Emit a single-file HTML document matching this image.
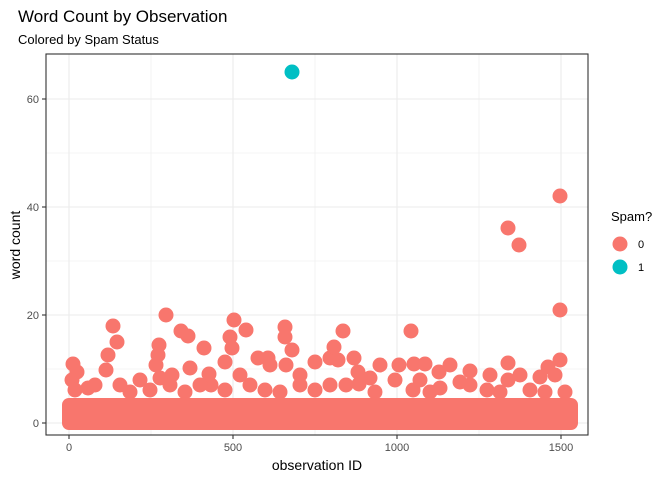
<!DOCTYPE html><html><head><style>body{margin:0;background:#fff}</style></head><body>
<svg width="672" height="480" xmlns="http://www.w3.org/2000/svg" font-family="Liberation Sans, sans-serif">
<rect width="672" height="480" fill="#fff"/>
<g stroke="#ebebeb" stroke-width="0.6">
<line x1="46" x2="588" y1="153" y2="153"/><line x1="46" x2="588" y1="261" y2="261"/><line x1="46" x2="588" y1="369" y2="369"/>
<line y1="54" y2="435" x1="151" x2="151"/><line y1="54" y2="435" x1="315" x2="315"/><line y1="54" y2="435" x1="479" x2="479"/>
</g>
<g stroke="#ebebeb" stroke-width="1.1">
<line x1="46" x2="588" y1="99" y2="99"/><line x1="46" x2="588" y1="207" y2="207"/><line x1="46" x2="588" y1="315" y2="315"/><line x1="46" x2="588" y1="423" y2="423"/>
<line y1="54" y2="435" x1="69" x2="69"/><line y1="54" y2="435" x1="233" x2="233"/><line y1="54" y2="435" x1="397" x2="397"/><line y1="54" y2="435" x1="561" x2="561"/>
</g>
<g fill="#F8766D">
<rect x="62" y="398" width="516" height="32" rx="7"/>
<circle cx="560" cy="196" r="7.5"/><circle cx="508" cy="228" r="7.5"/><circle cx="519" cy="245" r="7.5"/>
<circle cx="166" cy="315" r="7.5"/><circle cx="181" cy="331" r="7.5"/><circle cx="188" cy="336" r="7.5"/><circle cx="159" cy="345" r="7.5"/><circle cx="158" cy="355" r="7.5"/><circle cx="156" cy="365" r="7.5"/><circle cx="172" cy="375" r="7.5"/>
<circle cx="113" cy="326" r="7.5"/><circle cx="117" cy="342" r="7.5"/><circle cx="108" cy="355" r="7.5"/><circle cx="106" cy="370" r="7.5"/><circle cx="73" cy="364" r="7.5"/><circle cx="77" cy="372" r="7.5"/><circle cx="72" cy="380" r="7.5"/><circle cx="88" cy="388" r="7.5"/>
<circle cx="204" cy="348" r="7.5"/><circle cx="209" cy="374" r="7.5"/><circle cx="230" cy="337" r="7.5"/><circle cx="234" cy="320" r="7.5"/><circle cx="232" cy="348" r="7.5"/><circle cx="246" cy="330" r="7.5"/><circle cx="258" cy="358" r="7.5"/><circle cx="268" cy="358" r="7.5"/>
<circle cx="285" cy="327" r="7.5"/><circle cx="285" cy="337" r="7.5"/><circle cx="286" cy="365" r="7.5"/><circle cx="270" cy="365" r="7.5"/>
<circle cx="330" cy="358" r="7.5"/><circle cx="343" cy="331" r="7.5"/><circle cx="334" cy="347" r="7.5"/><circle cx="338" cy="360" r="7.5"/><circle cx="354" cy="358" r="7.5"/><circle cx="358" cy="372" r="7.5"/><circle cx="370" cy="378" r="7.5"/><circle cx="380" cy="365" r="7.5"/>
<circle cx="399" cy="365" r="7.5"/><circle cx="414" cy="364" r="7.5"/><circle cx="425" cy="364" r="7.5"/><circle cx="411" cy="331" r="7.5"/><circle cx="439" cy="372" r="7.5"/><circle cx="450" cy="365" r="7.5"/><circle cx="470" cy="371" r="7.5"/><circle cx="508" cy="380" r="7.5"/>
<circle cx="560" cy="310" r="7.5"/><circle cx="560" cy="360" r="7.5"/><circle cx="555" cy="375" r="7.5"/><circle cx="548" cy="367" r="7.5"/><circle cx="540" cy="377" r="7.5"/><circle cx="520" cy="375" r="7.5"/><circle cx="508" cy="363" r="7.5"/><circle cx="490" cy="375" r="7.5"/>
<circle cx="487" cy="390" r="7.5"/><circle cx="470" cy="385" r="7.5"/><circle cx="460" cy="382" r="7.5"/><circle cx="420" cy="380" r="7.5"/><circle cx="413" cy="390" r="7.5"/><circle cx="359" cy="384" r="7.5"/><circle cx="346" cy="385" r="7.5"/><circle cx="330" cy="385" r="7.5"/><circle cx="300" cy="385" r="7.5"/><circle cx="250" cy="385" r="7.5"/><circle cx="211" cy="385" r="7.5"/><circle cx="200" cy="385" r="7.5"/><circle cx="170" cy="385" r="7.5"/><circle cx="120" cy="385" r="7.5"/><circle cx="95" cy="385" r="7.5"/><circle cx="75" cy="390" r="7.5"/>
<circle cx="300" cy="375" r="7.5"/><circle cx="240" cy="375" r="7.5"/><circle cx="190" cy="368" r="7.5"/><circle cx="140" cy="380" r="7.5"/><circle cx="225" cy="362" r="7.5"/><circle cx="315" cy="362" r="7.5"/><circle cx="395" cy="380" r="7.5"/><circle cx="440" cy="388" r="7.5"/><circle cx="530" cy="390" r="7.5"/><circle cx="565" cy="392" r="7.5"/>
<circle cx="130" cy="392" r="7.5"/><circle cx="150" cy="390" r="7.5"/><circle cx="185" cy="392" r="7.5"/><circle cx="225" cy="390" r="7.5"/><circle cx="265" cy="390" r="7.5"/><circle cx="280" cy="392" r="7.5"/><circle cx="315" cy="390" r="7.5"/><circle cx="375" cy="392" r="7.5"/><circle cx="430" cy="392" r="7.5"/><circle cx="500" cy="392" r="7.5"/><circle cx="545" cy="392" r="7.5"/><circle cx="160" cy="378" r="7.5"/><circle cx="292" cy="350" r="7.5"/>
</g>
<circle cx="292" cy="72" r="7.5" fill="#00BFC4"/>
<rect x="46" y="54" width="542" height="381" fill="none" stroke="#333" stroke-width="1.1"/>
<g stroke="#333" stroke-width="1.1">
<line x1="42" x2="46" y1="99" y2="99"/><line x1="42" x2="46" y1="207" y2="207"/><line x1="42" x2="46" y1="315" y2="315"/><line x1="42" x2="46" y1="423" y2="423"/>
<line y1="435" y2="439" x1="69" x2="69"/><line y1="435" y2="439" x1="233" x2="233"/><line y1="435" y2="439" x1="397" x2="397"/><line y1="435" y2="439" x1="561" x2="561"/>
</g>
<g font-size="11" fill="#4d4d4d" text-anchor="end">
<text x="39" y="103">60</text><text x="39" y="211">40</text><text x="39" y="319">20</text><text x="39" y="427">0</text>
</g>
<g font-size="11" fill="#4d4d4d" text-anchor="middle">
<text x="69" y="451">0</text><text x="233" y="451">500</text><text x="397" y="451">1000</text><text x="561" y="451">1500</text>
</g>
<text x="317" y="470" font-size="14" text-anchor="middle">observation ID</text>
<text transform="translate(20,245) rotate(-90)" font-size="14" text-anchor="middle">word count</text>
<text x="18" y="22" font-size="17">Word Count by Observation</text>
<text x="18" y="44" font-size="13">Colored by Spam Status</text>
<text x="611" y="221" font-size="13">Spam?</text>
<circle cx="620" cy="244" r="7.5" fill="#F8766D"/><circle cx="620" cy="267" r="7.5" fill="#00BFC4"/>
<text x="638" y="248" font-size="11">0</text><text x="638" y="271" font-size="11">1</text>
</svg></body></html>
